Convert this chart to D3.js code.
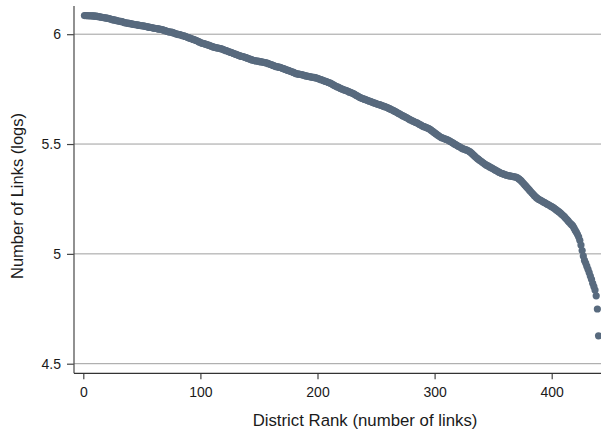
<!DOCTYPE html>
<html><head><meta charset="utf-8">
<script src="https://cdn.jsdelivr.net/npm/d3@7"></script>
<style>body{margin:0;background:#fff}svg{display:block}text{font-family:"Liberation Sans",Arial,sans-serif;fill:#1a1a1a}</style>
</head><body>
<svg id="c" width="601" height="433"></svg>
<script>
const xTicks = [0, 100, 200, 300, 400];
const yTicks = [4.5, 5, 5.5, 6];
const xTitle = "District Rank (number of links)";
const yTitle = "Number of Links (logs)";
// log number of links, by district rank 1..440
const links = [
6.085,6.085,6.085,6.084,6.084,6.084,6.084,6.083,6.083,6.082,
6.082,6.081,6.080,6.079,6.078,6.077,6.076,6.075,6.074,6.073,
6.072,6.071,6.069,6.068,6.066,6.065,6.064,6.063,6.061,6.060,
6.059,6.058,6.057,6.055,6.053,6.052,6.051,6.050,6.049,6.048,
6.047,6.046,6.045,6.044,6.043,6.042,6.041,6.040,6.039,6.038,
6.038,6.037,6.036,6.035,6.033,6.032,6.031,6.030,6.029,6.028,
6.027,6.026,6.025,6.024,6.023,6.022,6.021,6.020,6.018,6.016,
6.014,6.012,6.011,6.010,6.009,6.008,6.006,6.004,6.002,6.000,
5.999,5.998,5.997,5.995,5.993,5.992,5.990,5.988,5.986,5.984,
5.982,5.980,5.978,5.976,5.974,5.972,5.970,5.968,5.965,5.962,
5.960,5.958,5.957,5.955,5.954,5.952,5.950,5.948,5.946,5.944,
5.942,5.940,5.939,5.938,5.937,5.936,5.935,5.933,5.931,5.929,
5.927,5.925,5.923,5.921,5.919,5.917,5.915,5.913,5.911,5.909,
5.907,5.905,5.903,5.901,5.899,5.898,5.897,5.895,5.893,5.891,
5.889,5.887,5.885,5.883,5.881,5.880,5.879,5.878,5.877,5.876,
5.875,5.874,5.873,5.872,5.871,5.870,5.868,5.866,5.864,5.862,
5.860,5.858,5.856,5.854,5.852,5.851,5.850,5.849,5.847,5.845,
5.843,5.841,5.839,5.837,5.835,5.833,5.831,5.829,5.827,5.825,
5.822,5.820,5.819,5.818,5.817,5.816,5.815,5.814,5.812,5.810,
5.809,5.808,5.807,5.806,5.805,5.804,5.803,5.802,5.800,5.799,
5.797,5.795,5.793,5.791,5.789,5.787,5.785,5.783,5.781,5.779,
5.777,5.774,5.771,5.768,5.765,5.762,5.760,5.758,5.755,5.752,
5.750,5.748,5.746,5.744,5.742,5.740,5.737,5.735,5.733,5.731,
5.728,5.725,5.722,5.719,5.716,5.713,5.710,5.708,5.706,5.704,
5.702,5.700,5.698,5.696,5.694,5.692,5.690,5.688,5.686,5.684,
5.682,5.680,5.679,5.677,5.675,5.673,5.671,5.669,5.667,5.665,
5.662,5.660,5.657,5.655,5.652,5.649,5.646,5.643,5.640,5.637,
5.634,5.631,5.628,5.626,5.623,5.620,5.617,5.614,5.611,5.608,
5.606,5.603,5.600,5.598,5.596,5.593,5.590,5.587,5.584,5.581,
5.579,5.577,5.575,5.573,5.570,5.567,5.563,5.559,5.555,5.551,
5.547,5.543,5.539,5.535,5.532,5.529,5.527,5.525,5.523,5.521,
5.519,5.516,5.513,5.510,5.507,5.504,5.500,5.497,5.494,5.491,
5.488,5.485,5.482,5.479,5.477,5.475,5.473,5.471,5.468,5.465,
5.461,5.456,5.451,5.446,5.441,5.436,5.432,5.428,5.424,5.420,
5.416,5.412,5.408,5.405,5.402,5.399,5.396,5.393,5.390,5.387,
5.384,5.381,5.378,5.375,5.372,5.369,5.367,5.365,5.363,5.361,
5.359,5.357,5.356,5.355,5.354,5.353,5.352,5.351,5.350,5.348,
5.345,5.341,5.337,5.332,5.326,5.320,5.314,5.308,5.302,5.296,
5.290,5.284,5.278,5.272,5.266,5.261,5.256,5.252,5.248,5.245,
5.242,5.239,5.236,5.233,5.230,5.227,5.224,5.221,5.218,5.215,
5.212,5.208,5.204,5.200,5.196,5.192,5.188,5.183,5.178,5.173,
5.168,5.162,5.156,5.150,5.144,5.138,5.133,5.128,5.118,5.108,
5.099,5.089,5.078,5.062,5.040,5.015,4.990,4.970,4.958,4.944,
4.930,4.915,4.899,4.884,4.866,4.851,4.835,4.809,4.749,4.627
];
const ranks = links.map((d, i) => i + 1);

const svg = d3.select("#c");
const x = d3.scaleLinear().domain([0, 400]).range([83.3, 551.7]);
const y = d3.scaleLinear().domain([4.5, 6]).range([363.7, 34.2]);
const plotL = 74, plotR = 601, plotT = 6, plotB = 373.3;

// gridlines
svg.append("g").selectAll("line").data(yTicks).join("line")
  .attr("x1", plotL).attr("x2", plotR)
  .attr("y1", d => y(d)).attr("y2", d => y(d))
  .attr("stroke", "#9e9e9e").attr("stroke-width", 1);

// axes
const yAxis = svg.append("g").attr("transform", `translate(${plotL},0)`)
  .call(d3.axisLeft(y).tickValues(yTicks).tickSize(7).tickPadding(6).tickFormat(d3.format("")));
yAxis.select(".domain").remove();
yAxis.append("line").attr("x1", 0).attr("x2", 0).attr("y1", plotT).attr("y2", plotB)
  .attr("stroke", "#555").attr("stroke-width", 1.3);

const xAxis = svg.append("g").attr("transform", `translate(0,${plotB})`)
  .call(d3.axisBottom(x).tickValues(xTicks).tickSize(6).tickPadding(8).tickFormat(d3.format("")));
xAxis.select(".domain").remove();
xAxis.append("line").attr("x1", plotL).attr("x2", plotR).attr("y1", 0).attr("y2", 0)
  .attr("stroke", "#333").attr("stroke-width", 1.3);

svg.selectAll(".tick line").attr("stroke", "#444").attr("stroke-width", 1.2);
svg.selectAll(".tick text").attr("font-size", 14).attr("fill", "#1a1a1a")
  .attr("font-family", "'Liberation Sans', Arial, sans-serif");

// points
svg.append("g").selectAll("circle").data(ranks).join("circle")
  .attr("cx", d => x(d)).attr("cy", (d, i) => y(links[i]))
  .attr("r", 3.6).attr("fill", "#586a7e");

// titles
svg.append("text").attr("x", 365).attr("y", 426).attr("text-anchor", "middle")
  .attr("font-size", 16.8).text(xTitle);
svg.append("text").attr("transform", "translate(23,196) rotate(-90)")
  .attr("text-anchor", "middle").attr("font-size", 16.5).text(yTitle);
</script>
</body></html>
